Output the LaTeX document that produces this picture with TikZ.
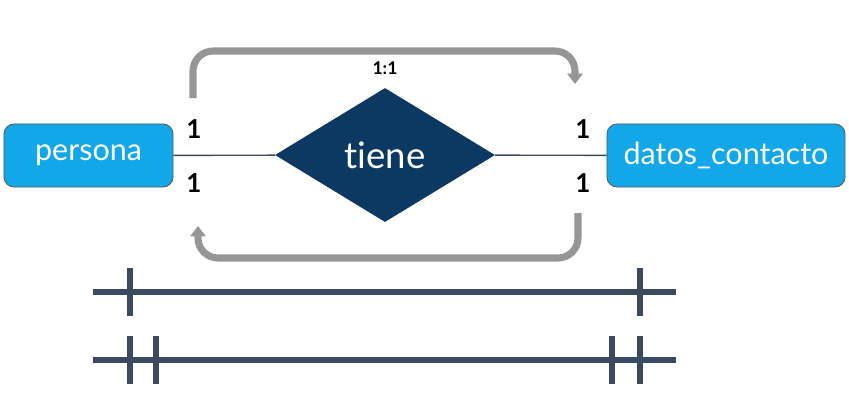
\documentclass[tikz,border=0pt]{standalone}
\usepackage{fontspec}
\setmainfont{Lato}[Ligatures={NoCommon,NoContextual}]
\usetikzlibrary{arrows.meta,shapes.geometric}
\definecolor{entblue}{RGB}{18,167,232}
\definecolor{relnavy}{RGB}{11,57,97}
\definecolor{loopgray}{RGB}{150,150,150}
\definecolor{slate}{RGB}{59,74,94}

\begin{document}
\begin{tikzpicture}[x=0.025cm,y=-0.025cm,
  entity/.style={draw=black!65,line width=0.6pt,fill=entblue,rounded corners=0.25cm,
    text=white,font=\fontsize{21.7}{24}\selectfont,minimum height=1.575cm,inner sep=0pt},
  relation/.style={diamond,fill=relnavy,text=white,font=\fontsize{26}{30}\selectfont,
    minimum width=5.5cm,minimum height=3.35cm,inner sep=0pt},
  card/.style={font=\fontsize{18.5}{20}\selectfont\bfseries,inner sep=0pt},
  link/.style={draw=slate,line width=1pt},
  loop/.style={draw=loopgray,line width=5pt,rounded corners=0.5cm,
    -{Triangle[length=2.6mm,width=3.8mm]}},
  bar/.style={draw=slate,line width=4.8pt}]
\useasboundingbox (0,0) rectangle (849,416);

\node[entity,minimum width=4.225cm] (persona) at (88.5,155.5) {persona};
\node[entity,minimum width=5.95cm] (datos) at (726,155.5) {datos\_contacto};
\node[relation] (tiene) at (385,155) {tiene};
\draw[link] (persona) -- (tiene) -- (datos);

% cardinalities
\node[card] (pa) at (194,129) {1};
\node[card] (pb) at (194,183) {1};
\node[card] (da) at (583,129) {1};
\node[card] (db) at (583,183) {1};
\node[font=\fontsize{12.5}{14}\selectfont\bfseries] (ratio) at (385,68) {1:1};

% reading direction
\coordinate (topstart) at (193,98);
\coordinate (topend) at (575,84);
\coordinate (botstart) at (578,213);
\coordinate (botend) at (198,226);
\draw[loop] (topstart) -- (193,51) -- (575,51) -- (topend);
\draw[loop] (botstart) -- (578,258) -- (198,258) -- (botend);

% notation: one and only one
\foreach \y/\xs in {292/{130,640},360/{130,156,612,640}}{
  \draw[bar] (93,\y) -- (676,\y);
  \foreach \x in \xs
    \draw[bar,line width=4pt] (\x,\y-24) -- (\x,\y+24);
}
\end{tikzpicture}
\end{document}
